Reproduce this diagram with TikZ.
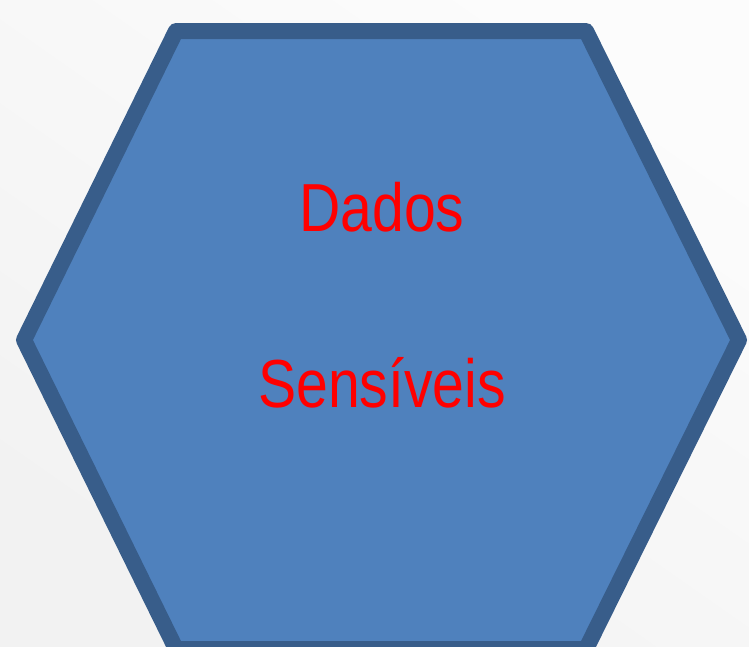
\documentclass[tikz,border=0pt]{standalone}
\usepackage{fontspec}
\setmainfont{Liberation Sans}
\definecolor{hexfill}{RGB}{79,129,189}
\definecolor{hexline}{RGB}{56,93,138}
\definecolor{bgA}{RGB}{242,242,242}
\definecolor{bgB}{RGB}{252,252,252}
\begin{document}
\begin{tikzpicture}[x=1pt,y=-1pt,
  hexstyle/.style={fill=hexfill,draw=hexline,line width=16pt,line join=round},
  labelstyle/.style={text=red,font=\fontsize{68}{80}\selectfont,anchor=base,inner sep=0pt}]
\useasboundingbox (0,0) rectangle (749,646);
\shade[bottom color=bgA,top color=bgB,shading angle=-35] (0,0) rectangle (749,646);
\coordinate (tl) at (176,31);
\coordinate (tr) at (586,31);
\coordinate (r) at (739,340);
\coordinate (br) at (586,649);
\coordinate (bl) at (176,649);
\coordinate (l) at (24,340);
\draw[hexstyle] (tl) -- (tr) -- (r) -- (br) -- (bl) -- (l) -- cycle;
\node[labelstyle] (dados) at (382,231) {\scalebox{0.84}[1]{Dados}};
\node[labelstyle] (sens) at (382,407) {\scalebox{0.84}[1]{Sensíveis}};
\end{tikzpicture}
\end{document}
